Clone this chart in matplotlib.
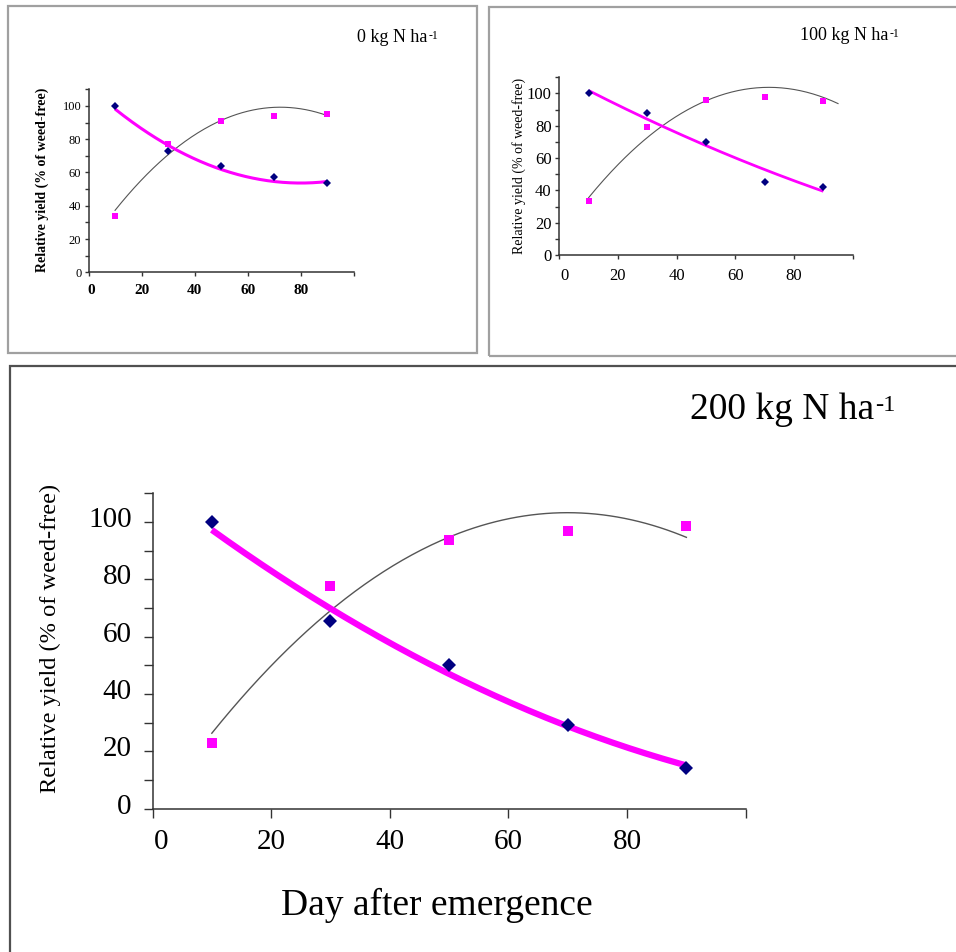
"""
Relative yield vs. day after emergence for three N rates (0, 100, 200 kg N/ha).
"""

import matplotlib
matplotlib.use("Agg")
import matplotlib.pyplot as plt
import matplotlib.transforms as mtransforms
from matplotlib.patches import Rectangle
from matplotlib.text import Annotation
from matplotlib.ticker import MultipleLocator
import numpy as np

plt.rcParams["font.family"] = ["Liberation Serif", "DejaVu Serif"]

# --- data ---
days = [10, 30, 50, 70, 90]

# 0 kg N ha-1
n0_diamond = [100, 73, 64, 57, 53.5]
n0_square = [34, 77, 91, 94, 95]
n0_pink_trend = [98.8, 74.7, 62.7, 55, 54.2]
n0_gray_trend = [36.5, 72.7, 89.8, 99.2, 94.4]
n0_gray_end = 89.5

# 100 kg N ha-1
n100_diamond = [100, 87.6, 70, 45, 42.3]
n100_square = [33.6, 79.4, 95.9, 98.1, 95.1]
n100_pink_trend = [101.6, 84.5, 67.6, 52.6, 39.6]
n100_gray_trend = [35.7, 72.2, 95.9, 103.7, 97.5]
n100_gray_end = 95

# 200 kg N ha-1
n200_diamond = [100, 65.4, 50, 29.1, 14.3]
n200_square = [22.7, 77.5, 93.6, 96.7, 98.5]
n200_pink_trend = [97.2, 69.8, 47.1, 28.5, 15.1]
n200_gray_trend = [26.2, 69.2, 94.7, 103.1, 94.7]
n200_gray_end = 90

xtick_vals = [0, 20, 40, 60, 80, 100]
xtick_labels = ["0", "20", "40", "60", "80", ""]
ytick_vals = [0, 20, 40, 60, 80, 100]
ytick_labels = ["0", "20", "40", "60", "80", "100"]

YLABEL = "Relative yield (% of weed-free)"

W, H = 956, 952
NAVY = "#000080"
MAGENTA = "#FF00FF"


def rect(x0, x1, y0, y1):
    # pixel box (top-left origin) -> figure fraction
    return [x0 / W, 1 - y1 / H, (x1 - x0) / W, (y1 - y0) / H]


def trend(xs, ys, x_end):
    coef = np.polyfit(xs, ys, 2)
    xx = np.linspace(xs[0], x_end, 200)
    return xx, np.polyval(coef, xx)


def draw_panel(ax, diamond, square, pink_trend, gray_trend, gray_end,
               pink_lw, gray_lw, ms_d, ms_s, tick_len, ypad, xpad,
               ytick_size, xtick_size, xtick_weight="normal", zero_shift=4):
    gx, gy = trend(days, gray_trend, gray_end)
    ax.plot(gx, gy, color="#555555", linewidth=gray_lw, zorder=2)
    px, py = trend(days, pink_trend, days[-1])
    ax.plot(px, py, color=MAGENTA, linewidth=pink_lw, zorder=3,
            solid_capstyle="butt")
    ax.plot(days, square, linestyle="none", marker="s", markersize=ms_s,
            color=MAGENTA, markeredgewidth=0, zorder=4)
    ax.plot(days, diamond, linestyle="none", marker="D", markersize=ms_d,
            color=NAVY, markeredgewidth=0, zorder=5)

    ax.set_xlim(0, 100)
    ax.set_ylim(0, 110)
    for side in ["top", "right"]:
        ax.spines[side].set_visible(False)
    for side in ["left", "bottom"]:
        ax.spines[side].set_color("#333333")
        ax.spines[side].set_linewidth(1.1)

    ax.set_xticks(xtick_vals)
    ax.set_xticklabels(xtick_labels, fontsize=xtick_size,
                       fontweight=xtick_weight)
    ax.set_yticks(ytick_vals)
    ax.set_yticklabels(ytick_labels, fontsize=ytick_size)
    ax.yaxis.set_minor_locator(MultipleLocator(10))
    ax.tick_params(axis="both", which="both", direction="out",
                   length=tick_len, width=1.0, color="#333333")
    ax.tick_params(axis="y", which="major", pad=ypad)
    ax.tick_params(axis="x", which="major", pad=xpad)

    # Excel-style: the "0" label sits a little right of its tick
    fig = ax.figure
    lbl = ax.get_xticklabels()[0]
    lbl.set_transform(lbl.get_transform() + mtransforms.ScaledTranslation(
        zero_shift / 100, 0, fig.dpi_scale_trans))


def rate_title(fig, x, y, rate, size):
    # "<rate> kg N ha" with a small "-1" superscript after it
    t = fig.text(x / W, 1 - y / H, f"{rate} kg N ha", fontsize=size,
                 ha="left", va="center")
    sup = Annotation("-1", xy=(1, 1), xycoords=t,
                     xytext=(0.5, -0.06 * size), textcoords="offset points",
                     fontsize=size * 0.65, ha="left", va="top")
    fig.add_artist(sup)


fig = plt.figure(figsize=(W / 100, H / 100), dpi=100)

# panel frames
for (x0, y0, x1, y1, col) in [(7.5, 6, 476.5, 352.5, "#a0a0a0"),
                              (488.5, 6.5, 962, 355.5, "#a0a0a0"),
                              (9.5, 366, 962, 962, "#505050")]:
    fig.add_artist(Rectangle((x0 / W, 1 - y1 / H), (x1 - x0) / W,
                             (y1 - y0) / H, transform=fig.transFigure,
                             fill=False, edgecolor=col, linewidth=1.6))

# top-left: 0 kg N
ax1 = fig.add_axes(rect(88.5, 354, 89.3, 272.3))
draw_panel(ax1, n0_diamond, n0_square, n0_pink_trend, n0_gray_trend,
           n0_gray_end, pink_lw=2.2, gray_lw=0.8, ms_d=4, ms_s=4.3,
           tick_len=2.6, ypad=2.5, xpad=5.5, ytick_size=9, xtick_size=11,
           xtick_weight="bold", zero_shift=3)
rate_title(fig, 357, 37, 0, 13)
fig.text(42 / W, 1 - 180 / H, YLABEL, rotation=90, fontsize=10,
         fontweight="bold", ha="center", va="center")

# top-right: 100 kg N
ax2 = fig.add_axes(rect(559.3, 852.7, 77.3, 255))
draw_panel(ax2, n100_diamond, n100_square, n100_pink_trend, n100_gray_trend,
           n100_gray_end, pink_lw=2.0, gray_lw=0.8, ms_d=4.2, ms_s=4.8,
           tick_len=2.6, ypad=3.0, xpad=6.5, ytick_size=12, xtick_size=12,
           zero_shift=5)
rate_title(fig, 800, 35, 100, 13)
fig.text(519 / W, 1 - 166 / H, YLABEL, rotation=90, fontsize=10,
         ha="center", va="center")

# bottom: 200 kg N
ax3 = fig.add_axes(rect(152.5, 745.7, 493.3, 808.5))
draw_panel(ax3, n200_diamond, n200_square, n200_pink_trend, n200_gray_trend,
           n200_gray_end, pink_lw=4.5, gray_lw=1.0, ms_d=6.8, ms_s=7.5,
           tick_len=6.5, ypad=8.5, xpad=8, ytick_size=21, xtick_size=21,
           zero_shift=9)
for lbl in ax3.get_yticklabels():
    lbl.set_transform(lbl.get_transform() + mtransforms.ScaledTranslation(
        0, 5 / 100, fig.dpi_scale_trans))
rate_title(fig, 690, 410, 200, 27)
fig.text(50 / W, 1 - 638 / H, YLABEL, rotation=90, fontsize=17.6,
         ha="center", va="center")
fig.text(436.5 / W, 1 - 905 / H, "Day after emergence", fontsize=27,
         ha="center", va="center")

fig.savefig("out.png", dpi=100)
plt.close(fig)
